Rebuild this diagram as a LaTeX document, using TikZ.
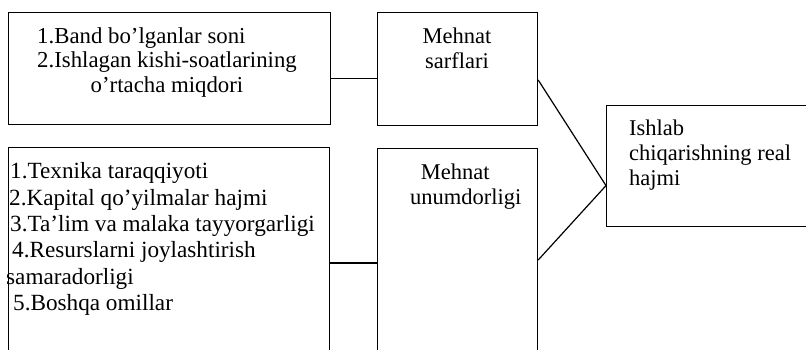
\documentclass[tikz,border=0pt]{standalone}
\usepackage{fontspec}
\setmainfont{Liberation Serif}
\begin{document}
\begin{tikzpicture}[x=1pt,y=-1pt,
  box/.style={draw,line width=1.2pt,rectangle,inner sep=0pt,anchor=north west},
  conn/.style={line width=1.2pt},
  txt/.style={inner sep=0pt,anchor=north west,font=\fontsize{22.8}{24.5}\selectfont},
  txtb/.style={inner sep=0pt,anchor=north west,font=\fontsize{23.2}{26.3}\selectfont},
  txtc/.style={inner sep=0pt,anchor=north west,font=\fontsize{22.5}{25}\selectfont}]
\useasboundingbox (0,0) rectangle (806,349);
\clip (0,0) rectangle (806,349);
% boxes
\node[box,minimum width=322pt,minimum height=112pt] (A) at (8,12) {};
\node[box,minimum width=160pt,minimum height=113pt] (B) at (377,12) {};
\node[box,minimum width=321pt,minimum height=230pt] (C) at (8,147) {};
\node[box,minimum width=160pt,minimum height=230pt] (D) at (377,148) {};
\node[box,minimum width=230pt,minimum height=121pt] (E) at (606,105) {};
% texts
\node[txt,align=center] (tA) at (37,27.2) {\rlap{1.Band bo’lganlar soni}\phantom{2.Ishlagan kishi-soatlarining}\\2.Ishlagan kishi-soatlarining\\o’rtacha miqdori};
\node[txtc,align=center,anchor=north] (tB) at (457,28) {Mehnat\\sarflari};
\node[txtb,align=left] (tC) at (10,162.5) {1.Texnika taraqqiyoti\\\hspace*{-1pt}2.Kapital qo’yilmalar hajmi\\3.Ta’lim va malaka tayyorgarligi\\\hspace*{2pt}4.Resurslarni joylashtirish\\\hspace*{-4pt}samaradorligi\\\hspace*{3pt}5.Boshqa omillar};
\node[txtc,align=left] (tD) at (410,164) {\hspace*{10.7pt}Mehnat\\unumdorligi};
\node[txtc,align=left] (tE) at (629,119.7) {Ishlab\\chiqarishning real\\hajmi};
% connectors
\coordinate (ein) at ([yshift=-19.5pt]E.west);
\draw[conn] (A.east |- 0,78.5) -- (B.west |- 0,78.5);
\draw[conn] (C.east |- 0,263) -- (D.west |- 0,263);
\draw[conn] (B.east |- 0,80) -- (ein);
\draw[conn] (D.east |- 0,260) -- (ein);
\end{tikzpicture}
\end{document}
